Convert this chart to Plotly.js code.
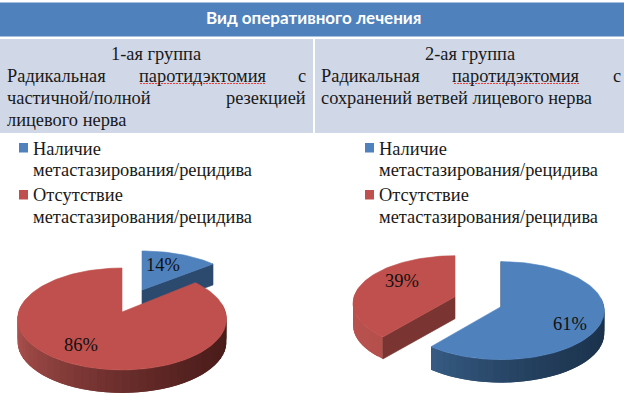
<!DOCTYPE html>
<html>
<head>
<meta charset="utf-8">
<script src="https://cdn.plot.ly/plotly-3.0.1.min.js"></script>
<style>html,body{margin:0;padding:0;background:#fff;overflow:hidden}#c{width:624px;height:401px}</style>
</head>
<body>
<div id="c"></div>
<script>
// ---- data ----
const categories = ['Наличие метастазирования/рецидива', 'Отсутствие метастазирования/рецидива'];
const group1Values = [14, 86];
const group2Values = [61, 39];
const titleText = 'Вид оперативного лечения';
const group1Name = '1-ая группа';
const group2Name = '2-ая группа';

// ---- pie geometry (axes run in page pixels) ----
const BLUE = '#4f81bd', RED = '#c0504d';
const serif = '"Liberation Serif", "Times New Roman", serif';
const traces = [];
function hex(c){return [1,3,5].map(i=>parseInt(c.substr(i,2),16));}
function mix(a,b,t){const A=hex(a),B=hex(b);return 'rgb('+A.map((v,i)=>Math.round(v+(B[i]-v)*t)).join(',')+')';}
function projector(g){
  return function(deg){
    const r=deg*Math.PI/180,u=Math.sin(r),v=-Math.cos(r),d=1-g.k*v;
    return [g.ax+g.rx*u/d, g.ay+g.a*v/d];
  };
}
function poly(pts,color,name,lw){
  traces.push({type:'scatter',mode:'lines',x:pts.map(p=>p[0]),y:pts.map(p=>p[1]),
    fill:'toself',fillcolor:color,line:{color:color,width:lw===undefined?0.6:lw},hoverinfo:'skip',showlegend:false,name:name||''});
}
function slice(g,from,to,color,name){
  const P=projector(g), D=g.depth;
  // outer wall, shaded segment by segment; each segment runs under the next so no seams show
  const a0=Math.max(from,80), a1=Math.min(to,280);
  if(a1>a0){
    const n=Math.ceil((a1-a0)/4), step=(a1-a0)/n;
    for(let i=0;i<n;i++){
      const s=a0+step*i, m=s+step, e=Math.min(a1,m+step);
      const p=P(s),q=P(m),r=P(e);
      const t=Math.min(1,Math.max(0,((p[0]+q[0])/2-(g.ax-g.rx))/(2*g.rx)));
      poly([p,q,r,[r[0],r[1]+D],[q[0],q[1]+D],[p[0],p[1]+D],p],mix(g.wallL,g.wallR,Math.pow(t,g.gamma||1)),'',0);
    }
  }
  // cut faces
  (g.faces||[]).forEach(f=>{
    const c=[g.ax,g.ay],q=P(f);
    poly([c,q,[q[0],q[1]+D],[c[0],c[1]+D],c],g.face);
  });
  // top surface
  const top=[[g.ax,g.ay]];
  for(let d=from;d<to;d+=2) top.push(P(d));
  top.push(P(to)); top.push([g.ax,g.ay]);
  poly(top,color,name);
}
function angles(vals){
  const sum=vals.reduce((a,b)=>a+b,0);let c=0;
  return vals.map(v=>{const s=c;c+=v/sum*360;return [s,c];});
}
const A1=angles(group1Values), A2=angles(group2Values);
slice({ax:142,ay:290,rx:100.4,a:44.5,k:0.14,depth:21,face:'#2c4a6e',faces:[A1[0][1]],wallL:'#2c4a6e',wallR:'#2c4a6e'},A1[0][0],A1[0][1],BLUE,categories[0]);
slice({ax:122,ay:312,rx:103.5,a:50,k:0.137,depth:23,wallL:'#ab514e',wallR:'#4a1c1a',gamma:0.6},A1[1][0],A1[1][1],RED,categories[1]);
slice({ax:501,ay:306.7,rx:103,a:48.7,k:0.08,depth:23,face:'#1f3a5a',faces:[A2[0][0]],wallL:'#44709f',wallR:'#1b324c',gamma:0.6},A2[0][0],A2[0][1],BLUE,categories[0]);
slice({ax:455,ay:296.7,rx:101,a:46.7,k:0.14,depth:22,face:'#7a3431',faces:[A2[1][0]],wallL:'#b9524f',wallR:'#7a3431',gamma:1.2},A2[1][0],A2[1][1],RED,categories[1]);

// ---- table and legend ----
const shapes=[], annotations=[];
function rect(x0,y0,x1,y1,color){shapes.push({type:'rect',layer:'below',x0,x1,y0,y1,fillcolor:color,line:{width:0}});}
function txt(s,x,y,anchor,size,color,family,bold){
  annotations.push({text:bold?'<b>'+s+'</b>':s,x,y,xref:'x',yref:'y',xanchor:anchor,yanchor:'middle',showarrow:false,
    font:{family:family||serif,size:size||18.4,color:color||'#1a1a1a'},borderpad:0,borderwidth:0});
}
rect(0,2.5,624,36.5,BLUE);
rect(0,39,313,133,'#d0d8e8');
rect(315,39,624,133,'#d0d8e8');
txt(titleText,313.5,17.5,'center',17,'#ffffff','Lato',true);
txt(group1Name,156,54,'center');
txt('Радикальная',7,76,'left');
txt('паротидэктомия',202.5,76,'center');
txt('с',306,76,'right');
txt('частичной/полной',7,98,'left');
txt('резекцией',306,98,'right');
txt('лицевого нерва',7,120,'left');
txt(group2Name,470,54,'center');
txt('Радикальная',321,76,'left');
txt('паротидэктомия',516,76,'center');
txt('с',621,76,'right');
txt('сохранений ветвей лицевого нерва',321,98,'left');
shapes.push({type:'line',layer:'above',x0:140,x1:265,y0:83.5,y1:83.5,line:{color:'#e8403c',width:1,dash:'2px,1px'}});
shapes.push({type:'line',layer:'above',x0:454,x1:579,y0:83.5,y1:83.5,line:{color:'#e8403c',width:1,dash:'2px,1px'}});

[[19,33],[365,379]].forEach(([sq,tx])=>{
  rect(sq,143,sq+9,152.5,BLUE);
  rect(sq,190,sq+9,199.5,RED);
  const a=categories[0].split(' '), b=categories[1].split(' ');
  txt(a[0],tx,148.5,'left');
  txt(a[1],tx,170,'left');
  txt(b[0],tx,194.5,'left');
  txt(b[1],tx,217,'left');
});

// data labels
txt(group1Values[0]+'%',162.5,265,'center',18.5,'#111');
txt(group1Values[1]+'%',81,345,'center',18.5,'#111');
txt(group2Values[1]+'%',402,281,'center',18.5,'#111');
txt(group2Values[0]+'%',570,324,'center',18.5,'#111');

Plotly.newPlot('c',traces,{
  width:624,height:401,margin:{l:0,r:0,t:0,b:0,pad:0},
  paper_bgcolor:'#ffffff',plot_bgcolor:'#ffffff',showlegend:false,
  xaxis:{range:[0,624],visible:false,fixedrange:true},
  yaxis:{range:[401,0],visible:false,fixedrange:true},
  shapes,annotations
},{staticPlot:true,displayModeBar:false});
</script>
</body>
</html>
